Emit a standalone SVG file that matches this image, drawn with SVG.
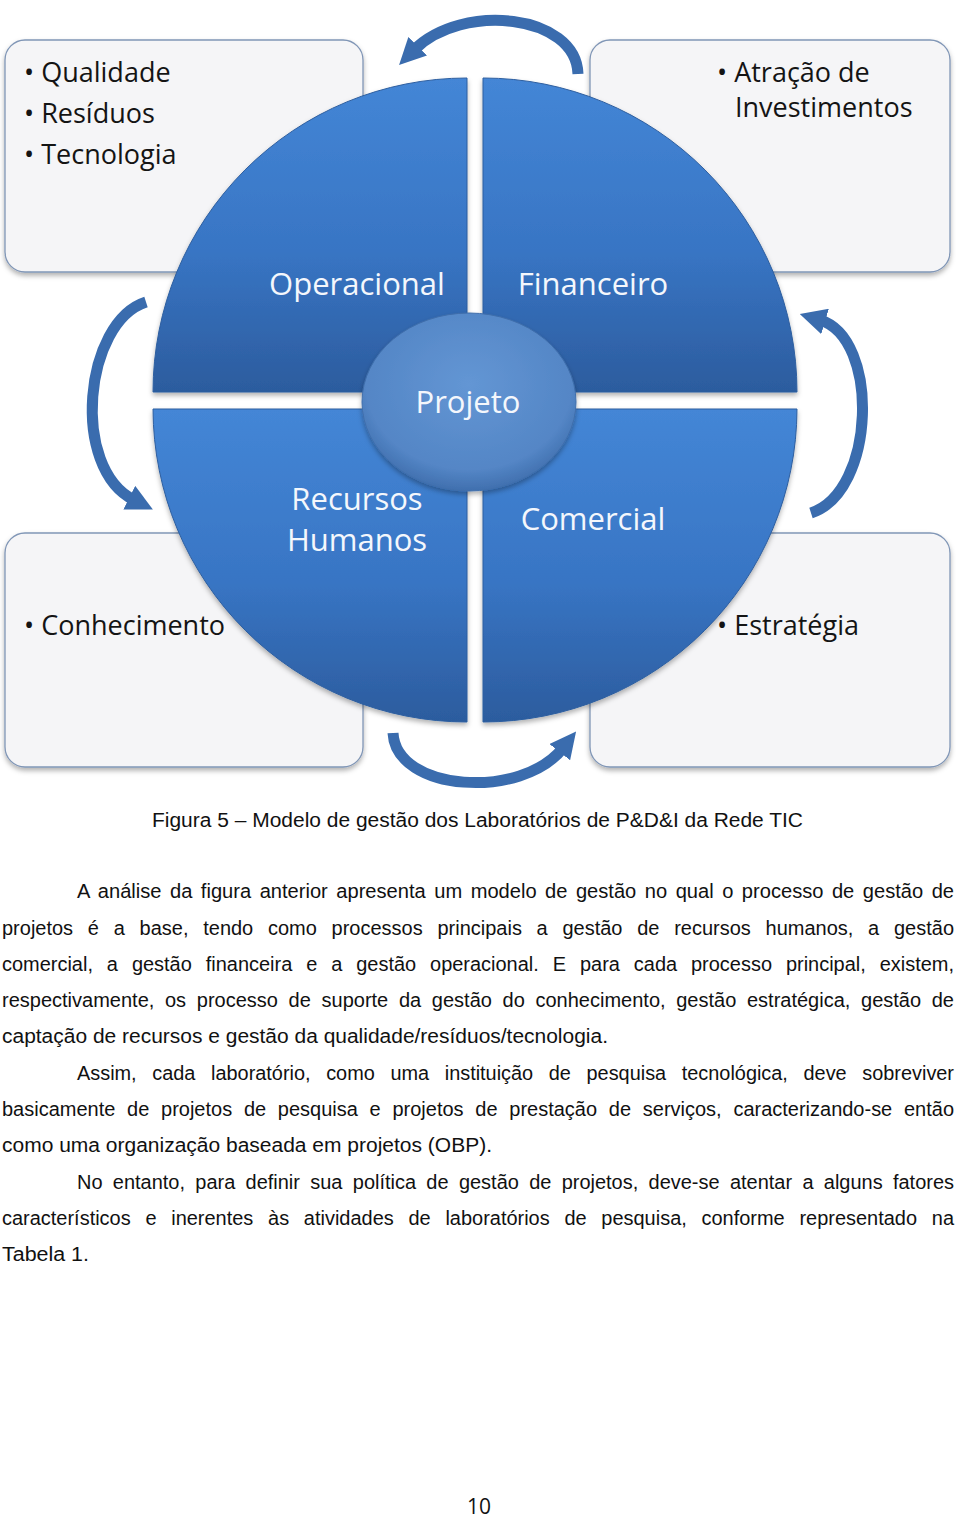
<svg xmlns="http://www.w3.org/2000/svg" width="960" height="1517" viewBox="0 0 960 1517">
<style>
.box{fill:#f5f5f7;stroke:#8096b6;stroke-width:1.3}
.bt{font-family:"Open Sans","Liberation Sans",sans-serif;font-size:27px;fill:#141414}
.ql{font-family:"Open Sans","Liberation Sans",sans-serif;font-size:31px;fill:#f4f7fc;text-anchor:middle}
.arr{fill:none;stroke:#3a6cae;stroke-width:11;stroke-linecap:butt}
.body{font-family:"Liberation Sans",Arial,sans-serif;font-size:20px;fill:#111}
</style>
<defs>
<filter id="sh" x="-10%" y="-10%" width="120%" height="125%">
<feDropShadow dx="0" dy="3" stdDeviation="2.5" flood-color="#000" flood-opacity="0.3"/>
</filter>
<linearGradient id="gq" x1="0" y1="0" x2="0" y2="1">
<stop offset="0" stop-color="#4486d6"/>
<stop offset="0.55" stop-color="#3875c4"/>
<stop offset="1" stop-color="#2c5c9e"/>
</linearGradient>
<radialGradient id="ge" cx="0.5" cy="0.4" r="0.6">
<stop offset="0" stop-color="#6396d4"/>
<stop offset="0.8" stop-color="#5486c6"/>
<stop offset="1" stop-color="#406fae"/>
</radialGradient>
<marker id="ah" viewBox="0 0 10 10" refX="2" refY="5" markerWidth="2.4" markerHeight="2.4" orient="auto" markerUnits="strokeWidth">
<path d="M0,0 L10,5 L0,10 Z" fill="#3a6cae"/>
</marker>
</defs>
<rect width="960" height="1517" fill="#fff"/>

<g id="box-tl">
<rect class="box" x="5" y="40" width="358" height="232" rx="20" filter="url(#sh)"/>
<text class="bt" x="24" y="82">• Qualidade</text>
<text class="bt" x="24" y="123">• Resíduos</text>
<text class="bt" x="24" y="164">• Tecnologia</text>
</g>
<g id="box-tr">
<rect class="box" x="590" y="40" width="360" height="232" rx="20" filter="url(#sh)"/>
<text class="bt" x="717" y="82">• Atração de</text>
<text class="bt" x="735" y="117">Investimentos</text>
</g>
<g id="box-bl">
<rect class="box" x="5" y="533" width="358" height="234" rx="20" filter="url(#sh)"/>
<text class="bt" x="24" y="635">• Conhecimento</text>
</g>
<g id="box-br">
<rect class="box" x="590" y="533" width="360" height="234" rx="20" filter="url(#sh)"/>
<text class="bt" x="717" y="635">• Estratégia</text>
</g>

<g id="q-operacional">
<path d="M467 392 L467 78 A314 314 0 0 0 153 392 Z" fill="url(#gq)" stroke="#2d5e9f" stroke-width="1" filter="url(#sh)"/>
<text class="ql" x="357" y="295">Operacional</text>
</g>
<g id="q-financeiro">
<path d="M483 392 L483 78 A314 314 0 0 1 797 392 Z" fill="url(#gq)" stroke="#2d5e9f" stroke-width="1" filter="url(#sh)"/>
<text class="ql" x="593" y="295">Financeiro</text>
</g>
<g id="q-rh">
<path d="M467 409 L153 409 A314 314 0 0 0 467 722 Z" fill="url(#gq)" stroke="#2d5e9f" stroke-width="1" filter="url(#sh)"/>
<text class="ql" x="357" y="510">Recursos</text>
<text class="ql" x="357" y="551">Humanos</text>
</g>
<g id="q-comercial">
<path d="M483 409 L797 409 A314 314 0 0 1 483 722 Z" fill="url(#gq)" stroke="#2d5e9f" stroke-width="1" filter="url(#sh)"/>
<text class="ql" x="593" y="530">Comercial</text>
</g>

<g id="connectors">
<path class="arr" d="M578 74 C576 14 462 2 414 50" marker-end="url(#ah)"/>
<path class="arr" d="M393 733 C396 792 522 800 563 748" marker-end="url(#ah)"/>
<path class="arr" d="M146 302 C84 322 70 468 134 500" marker-end="url(#ah)"/>
<path class="arr" d="M811 513 C876 492 880 338 820 320" marker-end="url(#ah)"/>
</g>

<g id="projeto">
<ellipse cx="469" cy="402" rx="107" ry="89" fill="url(#ge)" stroke="#3f6eab" stroke-width="1" filter="url(#sh)"/>
<text class="ql" x="468" y="413">Projeto</text>
</g>

<g id="texto">
<text class="body" x="152" y="827" textLength="651" lengthAdjust="spacingAndGlyphs">Figura 5 – Modelo de gestão dos Laboratórios de P&amp;D&amp;I da Rede TIC</text>
<text class="body" x="77" y="898" word-spacing="2.9" textLength="877" lengthAdjust="spacingAndGlyphs">A análise da figura anterior apresenta um modelo de gestão no qual o processo de gestão de</text>
<text class="body" x="2" y="935" word-spacing="9.2" textLength="952" lengthAdjust="spacingAndGlyphs">projetos é a base, tendo como processos principais a gestão de recursos humanos, a gestão</text>
<text class="body" x="2" y="971" word-spacing="8.4" textLength="952" lengthAdjust="spacingAndGlyphs">comercial, a gestão financeira e a gestão operacional. E para cada processo principal, existem,</text>
<text class="body" x="2" y="1007" word-spacing="5.1" textLength="952" lengthAdjust="spacingAndGlyphs">respectivamente, os processo de suporte da gestão do conhecimento, gestão estratégica, gestão de</text>
<text class="body" x="2" y="1043" textLength="606" lengthAdjust="spacingAndGlyphs">captação de recursos e gestão da qualidade/resíduos/tecnologia.</text>
<text class="body" x="77" y="1080" word-spacing="10.2" textLength="877" lengthAdjust="spacingAndGlyphs">Assim, cada laboratório, como uma instituição de pesquisa tecnológica, deve sobreviver</text>
<text class="body" x="2" y="1116" word-spacing="6.2" textLength="952" lengthAdjust="spacingAndGlyphs">basicamente de projetos de pesquisa e projetos de prestação de serviços, caracterizando-se então</text>
<text class="body" x="2" y="1152" textLength="490" lengthAdjust="spacingAndGlyphs">como uma organização baseada em projetos (OBP).</text>
<text class="body" x="77" y="1189" word-spacing="4.8" textLength="877" lengthAdjust="spacingAndGlyphs">No entanto, para definir sua política de gestão de projetos, deve-se atentar a alguns fatores</text>
<text class="body" x="2" y="1225" word-spacing="9.2" textLength="952" lengthAdjust="spacingAndGlyphs">característicos e inerentes às atividades de laboratórios de pesquisa, conforme representado na</text>
<text class="body" x="2" y="1261" textLength="87" lengthAdjust="spacingAndGlyphs">Tabela 1.</text>
<text x="479" y="1514" text-anchor="middle" font-family="'Open Sans','Liberation Sans',sans-serif" font-size="21" fill="#111">10</text>
</g>
</svg>
